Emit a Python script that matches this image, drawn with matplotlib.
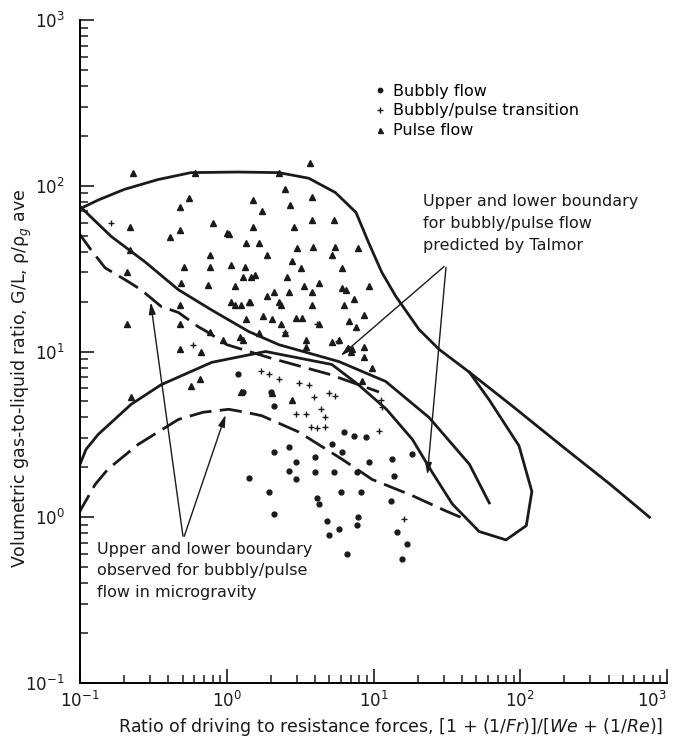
"""
Bubbly / pulse flow regime map, microgravity vs. Talmor prediction.
"""

import matplotlib.pyplot as plt
import numpy as np

plt.rcParams["font.family"] = ["DejaVu Sans"]

# ---- data ----
# flow-regime observations
pulse_x = [3.7, 0.23, 0.61, 2.26, 2.5, 0.55, 1.52, 2.7, 3.8, 0.48, 1.73, 0.22, 0.81,
           1.52, 3.8, 5.4, 0.48, 0.41, 1.03, 1.36, 1.65, 3.0, 3.9, 5.5, 7.9, 0.77, 1.87,
           5.2, 0.22, 0.51, 0.77, 1.07, 1.34, 1.47, 2.77, 3.2, 6.1, 0.21, 2.56, 1.3, 1.57,
           0.49, 0.75, 1.14, 3.35, 4.24, 6.1, 9.3, 1.87, 2.64, 2.1, 3.8, 1.45, 1.14, 1.26,
           2.33, 3.8, 6.3, 7.35, 0.48, 0.48, 0.21, 1.36, 1.78, 2.03, 2.33, 2.96, 3.25, 4.24,
           6.8, 8.6, 7.6, 0.77, 0.95, 0.48, 0.67, 1.3, 2.5, 3.45, 5.2, 5.8, 8.6, 7.1,
           3.45, 1.65, 8.6, 9.75, 2.86, 6.45, 0.223, 0.66, 0.57, 1.26, 2.03, 2.77, 1.07, 1.41,
           2.26, 1.23, 7.0, 8.3, 1.0]
pulse_y = [138, 120, 120, 120, 96, 84, 82, 77, 85, 74, 70, 56, 60,
           56, 62, 62, 54, 49, 51, 45, 45, 42, 43, 43, 42, 38, 38,
           38, 41, 32.5, 32.5, 33.4, 32.5, 28, 35, 32, 32, 30, 28, 28, 29,
           26, 25.3, 25, 24.7, 26, 24.2, 25, 21.5, 23, 23, 23, 20, 19.2, 19,
           19.2, 19, 19.2, 20.6, 19, 14.6, 14.6, 15.6, 16.3, 15.6, 14.6, 16, 16, 14.6,
           15.2, 16.7, 14, 13.2, 11.8, 10.3, 9.9, 11.8, 13, 11.8, 11.4, 11.8, 10.7, 10.3,
           10.7, 13, 9.3, 8.0, 56, 23.6, 5.3, 6.8, 6.2, 5.7, 5.6, 5.1, 19.9, 20,
           19.9, 12.3, 10, 6.6, 52]

trans_x = [0.163, 0.59, 1.7, 1.93, 2.26, 3.09, 3.62, 3.92, 4.96, 5.5, 11.2, 11.4, 2.96,
           3.45, 4.4, 4.7, 3.73, 4.1, 4.7, 4.1, 2.5, 5.7, 16.2, 10.9]
trans_y = [60, 11, 7.6, 7.3, 6.8, 6.5, 6.3, 5.35, 5.6, 5.4, 5.1, 4.6, 4.17,
           4.17, 4.5, 4.0, 3.5, 3.45, 3.5, 14.6, 13.2, 11.6, 0.97, 3.3]

bubbly_x = [1.3, 2.0, 1.2, 2.1, 7.35, 8.9, 5.2, 2.64, 2.1, 2.96, 6.3, 6.1, 4.0, 1.41,
            2.64, 2.96, 4.0, 5.4, 7.75, 9.3, 13.3, 13.8, 18.3, 1.93, 4.1, 4.24, 6.0, 8.2,
            13.1, 2.1, 4.8, 5.8, 7.9, 7.75, 4.96, 14.4, 16.9, 6.6, 15.6]
bubbly_y = [5.7, 5.7, 7.3, 4.7, 3.08, 3.03, 2.75, 2.67, 2.48, 2.15, 3.25, 2.46, 2.3, 1.72,
            1.91, 1.69, 1.88, 1.88, 1.88, 2.15, 2.24, 1.77, 2.4, 1.43, 1.31, 1.2, 1.43, 1.42,
            1.25, 1.04, 0.95, 0.85, 1.0, 0.9, 0.78, 0.81, 0.69, 0.6, 0.56]

# outer solid envelope
env_x = [0.097, 0.133, 0.20, 0.34, 0.57, 1.2, 2.26, 3.62, 5.5, 7.6, 9.3, 11.4, 14.2,
         20.4, 28, 45, 88, 205, 410, 760]
env_y = [71.7, 82, 95, 109, 120, 121, 120, 111, 91, 69, 45, 30, 21.5,
         13.6, 10.3, 7.5, 4.7, 2.57, 1.58, 1.0]

# Talmor upper boundary
tal_up_x = [0.097, 0.163, 0.28, 0.468, 0.78, 1.41, 2.26, 5.8, 12.1, 23.9, 45, 61.5]
tal_up_y = [77, 49.5, 34.5, 23.6, 17.9, 13.2, 11.0, 8.7, 6.6, 4.0, 2.09, 1.22]

# Talmor lower boundary (closes in a loop)
tal_lo_x = [0.097, 0.11, 0.133, 0.223, 0.357, 0.79, 1.84, 5.2, 7.9, 12.2, 18.4, 25,
            34.5, 52.5, 80, 110, 120, 98, 61.5, 45]
tal_lo_y = [1.95, 2.57, 3.16, 4.8, 6.3, 8.6, 10.0, 8.35, 6.3, 4.5, 2.95, 1.88,
            1.2, 0.82, 0.73, 0.89, 1.43, 2.7, 5.1, 7.5]

# microgravity observed boundaries (dashed)
mg_up_x = [0.097, 0.119, 0.148, 0.213, 0.26, 0.357, 0.468, 0.64, 0.73, 1.0, 1.93, 4.96, 10.9]
mg_up_y = [52.6, 41, 32, 26.4, 23.6, 18.7, 17.2, 14.1, 13.2, 11.0, 9.2, 7.3, 5.7]

mg_lo_x = [0.097, 0.127, 0.155, 0.249, 0.468, 0.69, 1.03, 1.34, 1.73, 3.09, 6.1, 9.8,
           18.4, 31.2, 42.6]
mg_lo_y = [1.04, 1.58, 1.95, 2.75, 3.89, 4.3, 4.48, 4.3, 4.1, 3.27, 2.24, 1.69,
           1.35, 1.09, 0.97]

decades = [0.1, 1, 10, 100, 1000]

fig = plt.figure(figsize=(6.77, 7.44), dpi=100)
ax = fig.add_axes([80 / 677, 1 - 683 / 744, 587 / 677, 663 / 744])

ink = "#1a1a1a"

ax.plot(env_x, env_y, color=ink, lw=2)
ax.plot(tal_up_x, tal_up_y, color=ink, lw=2)
ax.plot(tal_lo_x, tal_lo_y, color=ink, lw=2)
ax.plot(mg_up_x, mg_up_y, color=ink, lw=2, dashes=(8, 3))
ax.plot(mg_lo_x, mg_lo_y, color=ink, lw=2, dashes=(8, 3))

ax.plot(bubbly_x, bubbly_y, ls="none", marker="o", ms=3.5, color=ink,
        label="Bubbly flow")
ax.plot(trans_x, trans_y, ls="none", marker="+", ms=5, mew=1, color=ink,
        label="Bubbly/pulse transition")
ax.plot(pulse_x, pulse_y, ls="none", marker="^", ms=4, color=ink,
        label="Pulse flow")

# arrows
arrow = dict(arrowstyle="-|>,head_length=0.7,head_width=0.2", color=ink, lw=1)
for tip in [(5.8, 9.2), (23.2, 1.74)]:
    ax.annotate("", xy=tip, xytext=(31.3, 33.4), arrowprops=arrow)
for tip in [(0.301, 20.6), (0.995, 4.3)]:
    ax.annotate("", xy=tip, xytext=(0.506, 0.74), arrowprops=arrow)

ax.text(0.584, 0.737,
        "Upper and lower boundary\nfor bubbly/pulse flow\npredicted by Talmor",
        transform=ax.transAxes, ha="left", va="top", fontsize=11.5,
        linespacing=1.55, color=ink)
ax.text(0.029, 0.213,
        "Upper and lower boundary\nobserved for bubbly/pulse\nflow in microgravity",
        transform=ax.transAxes, ha="left", va="top", fontsize=11.5,
        linespacing=1.55, color=ink)

leg = ax.legend(loc="upper left", bbox_to_anchor=(0.49, 0.916), frameon=False,
                fontsize=11.5, handlelength=0.5, handletextpad=0.6,
                labelspacing=0.3, borderpad=0, markerscale=0.9)

ax.set_xscale("log")
ax.set_yscale("log")
ax.set_xlim(0.1, 1000)
ax.set_ylim(0.1, 1000)
ax.set_xticks(decades)
ax.set_yticks(decades)

ax.spines["top"].set_visible(False)
ax.spines["right"].set_visible(False)
ax.spines["left"].set_linewidth(1.4)
ax.spines["bottom"].set_linewidth(1.4)

ax.tick_params(which="major", direction="in", length=10, width=1.2,
               labelsize=12, pad=6, colors=ink)
ax.tick_params(axis="y", which="major", pad=11)
ax.tick_params(which="minor", direction="in", length=6, width=1.1, colors=ink)

fig.text(22 / 677, 1 - 378 / 744,
         "Volumetric gas-to-liquid ratio, G/L, \u03c1/\u03c1$_g$ ave",
         rotation=90, ha="center", va="center", fontsize=12.5, color=ink)
fig.text(391 / 677, 1 - 727 / 744,
         "Ratio of driving to resistance forces, [1 + (1/$\\it{Fr}$)]/"
         "[$\\it{We}$ + (1/$\\it{Re}$)]",
         ha="center", va="center", fontsize=12.5, color=ink)

# keep the last x tick label inside the figure (ticks get positions on draw)
fig.canvas.draw()
for tick in ax.xaxis.get_major_ticks():
    if np.isclose(tick.get_loc(), 1000):
        tick.label1.set_horizontalalignment("right")

fig.savefig("out.png", dpi=100)
plt.close(fig)
